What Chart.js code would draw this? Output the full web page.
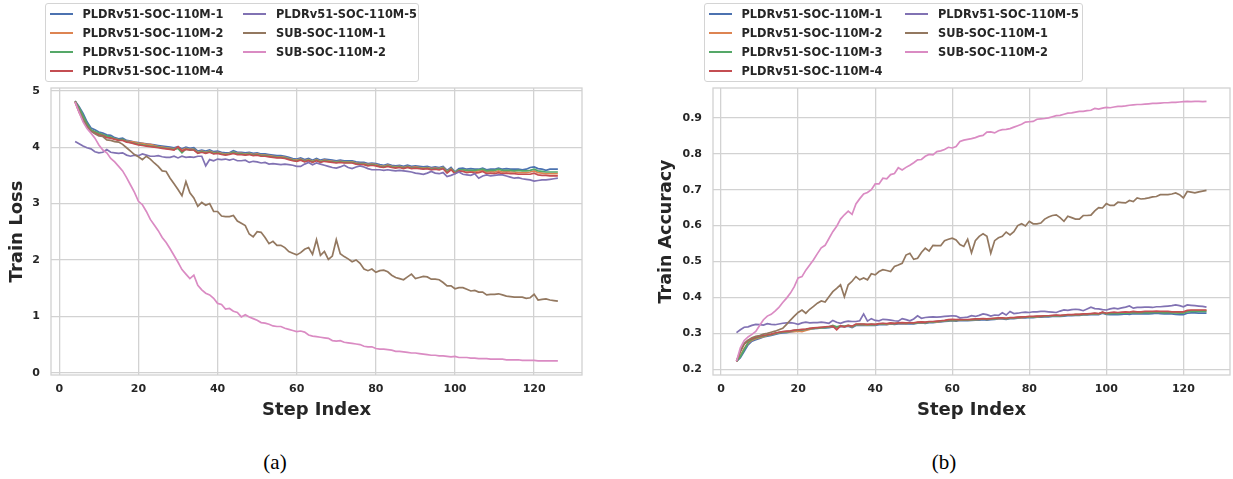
<!DOCTYPE html>
<html>
<head>
<meta charset="utf-8">
<script src="https://cdn.jsdelivr.net/npm/chart.js@4.4.0/dist/chart.umd.min.js"></script>
<style>
  html, body { margin: 0; padding: 0; background: #fff; }
  body { width: 1233px; height: 479px; position: relative; overflow: hidden; font-family: 'DejaVu Sans', sans-serif; }
  .panel { position: absolute; top: 0; height: 440px; }
  .legend { position: absolute; top: 3px; height: 79px; background: rgba(255,255,255,0.8); border: 1px solid #d4d4d4; border-radius: 3px; box-sizing: border-box; z-index: 2; }
  .item { position: absolute; height: 19px; display: flex; align-items: center; font-weight: bold; font-size: 11.4px; color: #262626; white-space: nowrap; }
  .item i { display: inline-block; width: 23px; height: 2px; margin-right: 10px; }
  .caption { position: absolute; top: 449px; width: 60px; margin-left: -30px; text-align: center; font-family: 'Liberation Serif', 'DejaVu Serif', serif; font-size: 21px; line-height: 26px; color: #000; }
</style>
</head>
<body>
<div class="panel" style="left:0;width:600px"><canvas id="lossChart"></canvas></div>
<div class="panel" style="left:620px;width:613px"><canvas id="accChart"></canvas></div>
<div class="legend" id="lossLegend" style="left:45px;width:374px"></div>
<div class="legend" id="accLegend" style="left:704px;width:379px"></div>
<div class="caption" style="left:275px">(a)</div>
<div class="caption" style="left:944px">(b)</div>

<script>
// Training step indices
const steps = [
  4,5,6,7,8,9,10,11,12,13,
  14,15,16,17,18,19,20,21,22,23,
  24,25,26,27,28,29,30,31,32,33,
  34,35,36,37,38,39,40,41,42,43,
  44,45,46,47,48,49,50,51,52,53,
  54,55,56,57,58,59,60,61,62,63,
  64,65,66,67,68,69,70,71,72,73,
  74,75,76,77,78,79,80,81,82,83,
  84,85,86,87,88,89,90,91,92,93,
  94,95,96,97,98,99,100,101,102,103,
  104,105,106,107,108,109,110,111,112,113,
  114,115,116,117,118,119,120,121,122,123,
  124,125,126
];

const seriesNames = [
  'PLDRv51-SOC-110M-1', 'PLDRv51-SOC-110M-2', 'PLDRv51-SOC-110M-3',
  'PLDRv51-SOC-110M-4', 'PLDRv51-SOC-110M-5', 'SUB-SOC-110M-1', 'SUB-SOC-110M-2'
];
const seriesColors = ['#4C72B0', '#DD8452', '#55A868', '#C44E52', '#8172B3', '#937860', '#DA8BC3'];

const xTicks = [0, 20, 40, 60, 80, 100, 120];
const lossTicks = [0, 1, 2, 3, 4, 5];
const accTicks = [0.2, 0.3, 0.4, 0.5, 0.6, 0.7, 0.8, 0.9];

// ---- Train loss ----
const lossPLDR1 = [
  4.82,4.72,4.60,4.45,4.34,4.31,4.27,4.25,4.22,4.21,
  4.17,4.15,4.16,4.12,4.11,4.09,4.08,4.07,4.06,4.05,
  4.04,4.03,4.02,4.01,4.00,3.99,4.01,3.97,4.00,3.98,
  3.99,3.93,3.95,3.93,3.95,3.92,3.93,3.91,3.90,3.90,
  3.94,3.91,3.91,3.90,3.91,3.89,3.90,3.88,3.88,3.87,
  3.86,3.85,3.85,3.84,3.82,3.80,3.79,3.81,3.78,3.80,
  3.77,3.80,3.77,3.79,3.78,3.77,3.76,3.77,3.76,3.76,
  3.76,3.74,3.73,3.73,3.71,3.72,3.71,3.69,3.68,3.70,
  3.68,3.67,3.68,3.66,3.68,3.66,3.67,3.66,3.65,3.66,
  3.64,3.65,3.64,3.66,3.59,3.64,3.56,3.62,3.63,3.61,
  3.62,3.61,3.61,3.63,3.60,3.61,3.61,3.63,3.61,3.62,
  3.61,3.61,3.61,3.60,3.61,3.64,3.65,3.62,3.61,3.59,
  3.61,3.61,3.61
];
const lossPLDR2 = [
  4.81,4.68,4.52,4.40,4.30,4.27,4.24,4.22,4.19,4.17,
  4.15,4.13,4.13,4.11,4.10,4.09,4.07,4.07,4.05,4.05,
  4.03,4.01,4.00,3.99,3.98,3.97,3.99,3.95,3.98,3.96,
  3.96,3.91,3.93,3.91,3.93,3.90,3.91,3.89,3.88,3.89,
  3.91,3.89,3.89,3.88,3.89,3.87,3.88,3.86,3.86,3.85,
  3.84,3.83,3.83,3.82,3.80,3.78,3.77,3.79,3.76,3.78,
  3.75,3.78,3.75,3.77,3.76,3.75,3.74,3.75,3.74,3.74,
  3.74,3.72,3.71,3.71,3.69,3.70,3.69,3.67,3.66,3.68,
  3.66,3.65,3.66,3.64,3.66,3.64,3.65,3.64,3.63,3.64,
  3.62,3.63,3.62,3.64,3.57,3.62,3.55,3.60,3.60,3.58,
  3.58,3.57,3.58,3.59,3.56,3.57,3.56,3.58,3.56,3.57,
  3.56,3.56,3.55,3.55,3.55,3.56,3.58,3.55,3.54,3.53,
  3.53,3.53,3.53
];
const lossPLDR3 = [
  4.81,4.70,4.56,4.42,4.31,4.28,4.25,4.22,4.20,4.18,
  4.15,4.13,4.14,4.10,4.08,4.07,4.05,4.04,4.03,4.02,
  4.01,4.00,3.99,3.98,3.97,3.96,3.98,3.90,3.97,3.95,
  3.96,3.90,3.92,3.90,3.92,3.89,3.90,3.88,3.87,3.88,
  3.91,3.88,3.88,3.87,3.88,3.86,3.87,3.85,3.85,3.84,
  3.83,3.82,3.82,3.81,3.79,3.77,3.76,3.78,3.75,3.77,
  3.74,3.77,3.74,3.76,3.75,3.74,3.73,3.74,3.73,3.73,
  3.73,3.71,3.70,3.70,3.68,3.69,3.68,3.66,3.65,3.67,
  3.65,3.64,3.65,3.63,3.65,3.63,3.64,3.63,3.62,3.63,
  3.61,3.62,3.61,3.63,3.56,3.61,3.55,3.60,3.60,3.59,
  3.59,3.59,3.60,3.61,3.58,3.59,3.59,3.61,3.59,3.59,
  3.59,3.58,3.59,3.58,3.58,3.59,3.61,3.58,3.57,3.56,
  3.56,3.56,3.56
];
const lossPLDR4 = [
  4.80,4.62,4.48,4.36,4.28,4.25,4.22,4.20,4.17,4.16,
  4.14,4.12,4.12,4.09,4.08,4.06,4.04,4.03,4.02,4.01,
  4.00,3.99,3.98,3.97,3.96,3.95,4.01,3.93,3.96,3.95,
  3.95,3.89,3.91,3.89,3.91,3.88,3.89,3.87,3.86,3.87,
  3.89,3.87,3.87,3.86,3.87,3.85,3.86,3.84,3.84,3.83,
  3.82,3.81,3.81,3.80,3.78,3.76,3.75,3.77,3.74,3.76,
  3.73,3.76,3.73,3.75,3.74,3.73,3.72,3.73,3.72,3.72,
  3.72,3.70,3.69,3.69,3.67,3.68,3.67,3.65,3.64,3.66,
  3.64,3.63,3.64,3.62,3.64,3.62,3.63,3.62,3.61,3.62,
  3.60,3.61,3.60,3.62,3.54,3.60,3.53,3.58,3.57,3.55,
  3.56,3.54,3.55,3.57,3.53,3.54,3.53,3.55,3.53,3.54,
  3.53,3.53,3.52,3.52,3.52,3.52,3.54,3.51,3.50,3.50,
  3.49,3.49,3.49
];
const lossPLDR5 = [
  4.10,4.06,4.02,3.99,3.97,3.92,3.90,3.91,3.96,3.91,
  3.90,3.89,3.90,3.86,3.84,3.86,3.85,3.88,3.86,3.84,
  3.84,3.85,3.83,3.82,3.82,3.84,3.81,3.84,3.82,3.83,
  3.82,3.84,3.84,3.67,3.78,3.76,3.79,3.78,3.79,3.77,
  3.79,3.76,3.76,3.77,3.73,3.75,3.74,3.72,3.73,3.70,
  3.71,3.70,3.69,3.70,3.69,3.68,3.66,3.66,3.70,3.73,
  3.69,3.72,3.70,3.68,3.66,3.64,3.63,3.65,3.68,3.64,
  3.62,3.65,3.67,3.65,3.62,3.60,3.60,3.60,3.59,3.60,
  3.59,3.58,3.59,3.58,3.57,3.56,3.54,3.53,3.52,3.54,
  3.57,3.54,3.53,3.55,3.48,3.50,3.53,3.56,3.52,3.51,
  3.50,3.53,3.45,3.49,3.51,3.49,3.50,3.51,3.51,3.49,
  3.47,3.45,3.46,3.44,3.43,3.42,3.40,3.41,3.42,3.42,
  3.43,3.44,3.45
];
const lossSUB1 = [
  4.82,4.66,4.50,4.38,4.29,4.24,4.20,4.19,4.13,4.12,
  4.10,4.09,4.05,3.99,3.93,3.87,3.83,3.78,3.84,3.79,
  3.72,3.66,3.58,3.57,3.45,3.35,3.25,3.14,3.39,3.19,
  3.10,2.95,3.02,2.97,3.00,2.86,2.86,2.78,2.77,2.77,
  2.79,2.69,2.65,2.61,2.46,2.41,2.50,2.49,2.40,2.29,
  2.33,2.26,2.26,2.22,2.15,2.12,2.09,2.13,2.19,2.22,
  2.10,2.36,2.08,2.15,2.01,2.07,2.36,2.11,2.06,2.02,
  1.97,2.00,1.94,1.84,1.81,1.84,1.78,1.81,1.82,1.79,
  1.73,1.69,1.67,1.65,1.70,1.75,1.67,1.69,1.71,1.70,
  1.66,1.66,1.65,1.60,1.54,1.54,1.49,1.51,1.51,1.48,
  1.45,1.46,1.43,1.43,1.38,1.39,1.39,1.40,1.38,1.36,
  1.35,1.34,1.34,1.34,1.32,1.33,1.39,1.29,1.30,1.31,
  1.29,1.28,1.27
];
const lossSUB2 = [
  4.80,4.62,4.45,4.33,4.25,4.16,4.04,3.95,3.90,3.80,
  3.74,3.66,3.58,3.46,3.33,3.20,3.04,2.98,2.86,2.72,
  2.62,2.52,2.40,2.31,2.20,2.08,1.96,1.83,1.75,1.67,
  1.73,1.55,1.47,1.41,1.38,1.32,1.23,1.21,1.13,1.14,
  1.09,1.07,0.99,1.03,0.99,0.96,0.93,0.89,0.88,0.86,
  0.83,0.82,0.82,0.79,0.77,0.75,0.73,0.74,0.72,0.67,
  0.65,0.64,0.63,0.62,0.61,0.57,0.56,0.57,0.54,0.53,
  0.52,0.51,0.50,0.47,0.46,0.46,0.43,0.42,0.42,0.41,
  0.40,0.38,0.38,0.37,0.36,0.35,0.35,0.34,0.33,0.32,
  0.31,0.31,0.30,0.30,0.29,0.28,0.29,0.27,0.27,0.27,
  0.26,0.26,0.25,0.25,0.25,0.24,0.24,0.24,0.24,0.23,
  0.23,0.23,0.23,0.22,0.22,0.22,0.22,0.21,0.21,0.21,
  0.21,0.21,0.21
];

// ---- Train accuracy ----
const accPLDR1 = [
  0.222,0.232,0.250,0.268,0.278,0.282,0.286,0.290,0.292,0.294,
  0.297,0.300,0.301,0.302,0.304,0.306,0.307,0.309,0.310,0.312,
  0.313,0.314,0.315,0.315,0.316,0.318,0.316,0.319,0.318,0.320,
  0.316,0.322,0.322,0.323,0.322,0.323,0.322,0.324,0.325,0.324,
  0.326,0.325,0.326,0.327,0.326,0.327,0.326,0.328,0.329,0.328,
  0.330,0.330,0.331,0.332,0.333,0.334,0.335,0.334,0.336,0.335,
  0.335,0.336,0.337,0.337,0.338,0.337,0.338,0.339,0.340,0.340,
  0.339,0.341,0.341,0.342,0.343,0.343,0.344,0.344,0.345,0.345,
  0.346,0.346,0.347,0.348,0.347,0.348,0.349,0.349,0.350,0.350,
  0.351,0.351,0.352,0.353,0.352,0.356,0.353,0.352,0.353,0.352,
  0.353,0.354,0.353,0.355,0.354,0.354,0.355,0.354,0.355,0.356,
  0.355,0.354,0.355,0.354,0.353,0.352,0.352,0.356,0.357,0.357,
  0.356,0.356,0.356
];
const accPLDR2 = [
  0.222,0.238,0.258,0.272,0.281,0.285,0.288,0.291,0.294,0.296,
  0.299,0.302,0.303,0.304,0.305,0.305,0.306,0.305,0.308,0.311,
  0.314,0.315,0.316,0.317,0.318,0.319,0.317,0.320,0.319,0.321,
  0.318,0.324,0.324,0.324,0.323,0.324,0.324,0.326,0.326,0.325,
  0.327,0.327,0.328,0.328,0.327,0.329,0.328,0.330,0.330,0.330,
  0.331,0.332,0.332,0.333,0.335,0.336,0.336,0.336,0.337,0.337,
  0.337,0.338,0.338,0.339,0.340,0.339,0.340,0.341,0.341,0.342,
  0.341,0.342,0.343,0.344,0.344,0.345,0.345,0.346,0.346,0.347,
  0.347,0.348,0.349,0.349,0.349,0.350,0.351,0.351,0.352,0.352,
  0.353,0.353,0.354,0.355,0.354,0.358,0.355,0.356,0.357,0.356,
  0.357,0.358,0.357,0.359,0.358,0.358,0.359,0.359,0.359,0.360,
  0.359,0.359,0.359,0.359,0.358,0.358,0.358,0.362,0.363,0.363,
  0.363,0.363,0.363
];
const accPLDR3 = [
  0.222,0.235,0.255,0.275,0.283,0.287,0.290,0.292,0.295,0.297,
  0.300,0.302,0.304,0.305,0.306,0.308,0.309,0.310,0.311,0.313,
  0.314,0.315,0.316,0.316,0.318,0.322,0.318,0.321,0.320,0.322,
  0.319,0.324,0.325,0.325,0.324,0.325,0.324,0.326,0.327,0.326,
  0.328,0.327,0.328,0.329,0.328,0.329,0.328,0.330,0.331,0.330,
  0.332,0.332,0.333,0.334,0.335,0.336,0.337,0.336,0.338,0.337,
  0.337,0.338,0.339,0.339,0.340,0.339,0.340,0.341,0.342,0.342,
  0.341,0.343,0.343,0.344,0.345,0.345,0.346,0.346,0.347,0.347,
  0.348,0.348,0.349,0.350,0.349,0.350,0.351,0.351,0.352,0.352,
  0.353,0.353,0.354,0.355,0.354,0.358,0.355,0.355,0.356,0.355,
  0.356,0.357,0.356,0.358,0.357,0.357,0.358,0.357,0.358,0.359,
  0.358,0.357,0.358,0.357,0.357,0.356,0.356,0.360,0.361,0.361,
  0.361,0.361,0.361
];
const accPLDR4 = [
  0.222,0.250,0.270,0.280,0.285,0.289,0.292,0.294,0.296,0.298,
  0.301,0.303,0.305,0.306,0.307,0.309,0.310,0.311,0.312,0.314,
  0.315,0.316,0.317,0.318,0.319,0.320,0.310,0.321,0.318,0.322,
  0.320,0.326,0.326,0.326,0.325,0.326,0.325,0.327,0.328,0.327,
  0.329,0.328,0.329,0.330,0.329,0.330,0.329,0.331,0.332,0.331,
  0.333,0.333,0.334,0.335,0.336,0.338,0.339,0.338,0.339,0.338,
  0.338,0.339,0.340,0.340,0.341,0.340,0.341,0.342,0.343,0.343,
  0.342,0.344,0.344,0.345,0.346,0.346,0.347,0.347,0.348,0.348,
  0.349,0.349,0.350,0.351,0.350,0.351,0.352,0.352,0.353,0.353,
  0.354,0.354,0.355,0.356,0.355,0.359,0.356,0.358,0.359,0.358,
  0.359,0.360,0.359,0.361,0.360,0.360,0.361,0.361,0.361,0.362,
  0.361,0.361,0.361,0.360,0.360,0.360,0.360,0.364,0.365,0.365,
  0.365,0.365,0.365
];
const accPLDR5 = [
  0.302,0.310,0.317,0.318,0.322,0.325,0.324,0.323,0.327,0.325,
  0.324,0.326,0.328,0.329,0.330,0.328,0.325,0.329,0.331,0.329,
  0.330,0.330,0.331,0.330,0.328,0.336,0.331,0.328,0.332,0.334,
  0.333,0.333,0.335,0.354,0.334,0.341,0.336,0.335,0.339,0.338,
  0.337,0.335,0.334,0.341,0.338,0.335,0.340,0.349,0.342,0.344,
  0.345,0.346,0.345,0.346,0.347,0.348,0.349,0.348,0.343,0.344,
  0.345,0.349,0.347,0.350,0.354,0.352,0.348,0.351,0.350,0.357,
  0.351,0.361,0.355,0.356,0.358,0.359,0.358,0.360,0.360,0.361,
  0.361,0.360,0.359,0.358,0.362,0.365,0.364,0.366,0.367,0.366,
  0.363,0.368,0.373,0.369,0.368,0.366,0.365,0.368,0.370,0.368,
  0.371,0.373,0.376,0.370,0.372,0.372,0.373,0.373,0.372,0.374,
  0.374,0.375,0.376,0.377,0.379,0.377,0.374,0.379,0.378,0.377,
  0.376,0.375,0.373
];
const accSUB1 = [
  0.222,0.250,0.272,0.281,0.288,0.292,0.294,0.298,0.300,0.303,
  0.306,0.310,0.314,0.325,0.337,0.348,0.358,0.365,0.356,0.367,
  0.375,0.384,0.390,0.387,0.402,0.416,0.425,0.435,0.402,0.435,
  0.445,0.458,0.449,0.454,0.449,0.466,0.463,0.472,0.477,0.475,
  0.472,0.486,0.490,0.495,0.518,0.523,0.506,0.509,0.525,0.537,
  0.529,0.545,0.544,0.544,0.558,0.562,0.565,0.560,0.547,0.542,
  0.562,0.524,0.558,0.570,0.577,0.570,0.523,0.558,0.566,0.570,
  0.582,0.574,0.583,0.600,0.605,0.599,0.612,0.605,0.605,0.607,
  0.618,0.624,0.628,0.630,0.622,0.612,0.626,0.622,0.618,0.618,
  0.628,0.628,0.629,0.641,0.650,0.649,0.661,0.656,0.656,0.665,
  0.664,0.663,0.670,0.667,0.677,0.674,0.675,0.677,0.680,0.681,
  0.686,0.686,0.686,0.688,0.691,0.686,0.677,0.695,0.693,0.691,
  0.694,0.696,0.698
];
const accSUB2 = [
  0.222,0.260,0.280,0.290,0.297,0.305,0.322,0.338,0.348,0.353,
  0.362,0.372,0.386,0.398,0.412,0.430,0.454,0.458,0.476,0.490,
  0.505,0.522,0.538,0.545,0.564,0.583,0.598,0.618,0.630,0.640,
  0.631,0.660,0.675,0.688,0.692,0.700,0.716,0.716,0.732,0.730,
  0.742,0.745,0.761,0.755,0.762,0.768,0.775,0.783,0.784,0.793,
  0.798,0.797,0.806,0.808,0.812,0.818,0.816,0.820,0.834,0.838,
  0.840,0.842,0.845,0.849,0.851,0.860,0.861,0.858,0.864,0.867,
  0.868,0.870,0.874,0.878,0.882,0.888,0.889,0.890,0.896,0.897,
  0.898,0.900,0.903,0.906,0.907,0.910,0.913,0.914,0.916,0.918,
  0.918,0.920,0.921,0.926,0.924,0.927,0.929,0.928,0.930,0.932,
  0.932,0.933,0.935,0.936,0.937,0.937,0.938,0.939,0.940,0.940,
  0.941,0.942,0.942,0.943,0.943,0.944,0.945,0.946,0.945,0.946,
  0.946,0.945,0.946
];

const lossSeries = [lossPLDR1, lossPLDR2, lossPLDR3, lossPLDR4, lossPLDR5, lossSUB1, lossSUB2];
const accSeries = [accPLDR1, accPLDR2, accPLDR3, accPLDR4, accPLDR5, accSUB1, accSUB2];

const TEXT = '#262626';
const GRID = '#d2d2d2';
Chart.defaults.font.family = "'DejaVu Sans', sans-serif";
Chart.defaults.color = TEXT;
Chart.defaults.animation = false;

// light frame around the plotting area
const framePlugin = {
  id: 'frame',
  beforeDatasetsDraw(chart) {
    const { ctx, chartArea: a } = chart;
    ctx.save();
    ctx.strokeStyle = GRID;
    ctx.lineWidth = 1.3;
    ctx.strokeRect(a.left, a.top, a.right - a.left, a.bottom - a.top);
    ctx.restore();
  }
};

function buildDatasets(series) {
  return series.map((values, i) => ({
    label: seriesNames[i],
    data: values,
    borderColor: seriesColors[i],
    backgroundColor: seriesColors[i],
    borderWidth: 1.7,
    pointRadius: 0,
    tension: 0,
    fill: false,
    order: series.length - i   // later series paint over earlier ones
  }));
}

function makeChart(canvasId, series, opt) {
  return new Chart(document.getElementById(canvasId), {
    type: 'line',
    data: { labels: steps, datasets: buildDatasets(series) },
    options: {
      responsive: true,
      maintainAspectRatio: false,
      layout: { padding: { top: 88, right: opt.padRight, left: 0, bottom: 0 } },
      plugins: { legend: { display: false }, tooltip: { enabled: false } },
      scales: {
        x: {
          type: 'linear',
          min: -2.1, max: 132.1,
          afterBuildTicks: s => { s.ticks = xTicks.map(v => ({ value: v })); },
          afterFit: s => { s.height = 65; },
          grid: { color: GRID, lineWidth: 1.3, drawTicks: false },
          border: { display: false },
          ticks: { padding: 8, font: { size: 11, weight: 'bold' }, color: TEXT, maxRotation: 0 },
          title: { display: true, text: 'Step Index', font: { size: 18, weight: 'bold' }, color: TEXT, padding: { top: 0, bottom: 19 } }
        },
        y: {
          min: opt.yMin, max: opt.yMax,
          afterBuildTicks: s => { s.ticks = opt.yTicks.map(v => ({ value: v })); },
          afterFit: s => { s.width = opt.yWidth; },
          grid: { color: GRID, lineWidth: 1.3, drawTicks: false },
          border: { display: false },
          ticks: { padding: 11, font: { size: 11, weight: 'bold' }, color: TEXT, callback: opt.fmt },
          title: { display: true, text: opt.yTitle, font: { size: opt.yTitleSize, weight: 'bold' }, color: TEXT, padding: { top: opt.yTitlePad, bottom: 0 } }
        }
      }
    },
    plugins: [framePlugin]
  });
}

makeChart('lossChart', lossSeries, {
  padRight: 18, yMin: -0.04, yMax: 5.05, yTicks: lossTicks, yWidth: 51,
  yTitle: 'Train Loss', yTitleSize: 18, yTitlePad: 7, fmt: v => String(v)
});
makeChart('accChart', accSeries, {
  padRight: 3, yMin: 0.184, yMax: 0.983, yTicks: accTicks, yWidth: 93,
  yTitle: 'Train Accuracy', yTitleSize: 17.5, yTitlePad: 36, fmt: v => v.toFixed(1)
});

// two-column legend, filled column by column
function buildLegend(id, col2Left) {
  const box = document.getElementById(id);
  seriesNames.forEach((name, i) => {
    const col = i < 4 ? 0 : 1;
    const row = i < 4 ? i : i - 4;
    const el = document.createElement('div');
    el.className = 'item';
    el.style.left = (col === 0 ? 3.5 : col2Left) + 'px';
    el.style.top = (0.5 + row * 19.1) + 'px';
    const sw = document.createElement('i');
    sw.style.background = seriesColors[i];
    el.appendChild(sw);
    el.appendChild(document.createTextNode(name));
    box.appendChild(el);
  });
}
buildLegend('lossLegend', 197);
buildLegend('accLegend', 200);
</script>
</body>
</html>
